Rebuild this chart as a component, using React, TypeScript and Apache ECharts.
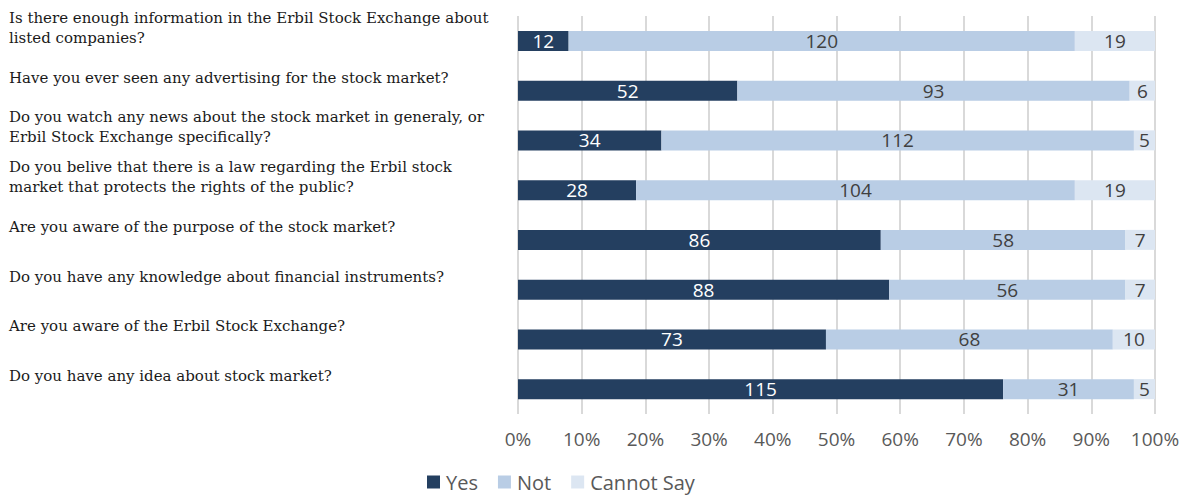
import React, { useEffect, useRef } from "react";
import * as echarts from "echarts";

const questions = [
  "Is there enough information in the Erbil Stock Exchange about\nlisted companies?",
  "Have you ever seen any advertising for the stock market?",
  "Do you watch any news about the stock market in generaly, or\nErbil Stock Exchange specifically?",
  "Do you belive that there is a law regarding the Erbil stock\nmarket that protects the rights of the public?",
  "Are you aware of the purpose of the stock market?",
  "Do you have any knowledge about financial instruments?",
  "Are you aware of the Erbil Stock Exchange?",
  "Do you have any idea about stock market?",
];

const yes = [12, 52, 34, 28, 86, 88, 73, 115];
const not = [120, 93, 112, 104, 58, 56, 68, 31];
const cannotSay = [19, 6, 5, 19, 7, 7, 10, 5];

const seriesNames = ["Yes", "Not", "Cannot Say"];
const colors = ["#243F60", "#B9CDE5", "#DCE6F2"];
const tickLabels = ["0%", "10%", "20%", "30%", "40%", "50%", "60%", "70%", "80%", "90%", "100%"];

export default function App() {
  const ref = useRef<HTMLDivElement>(null);
  useEffect(() => {
    if (!ref.current) return;
    const chart = echarts.init(ref.current, undefined, { renderer: "svg" });
    const raw = [yes, not, cannotSay];
    const totals = yes.map((v, i) => v + not[i] + cannotSay[i]);
    const series = raw.map((arr, s) => ({
      name: seriesNames[s],
      type: "bar",
      stack: "total",
      barWidth: 20,
      itemStyle: { color: colors[s] },
      label: {
        show: true,
        position: "inside",
        fontFamily: "Open Sans",
        fontSize: 19,
        color: s === 0 ? "#FFFFFF" : "#404040",
        formatter: (p: any) => String(arr[p.dataIndex]),
      },
      emphasis: { disabled: true },
      data: arr.map((v, i) => (v / totals[i]) * 100),
    }));
    chart.setOption({
      animation: false,
      grid: { left: 518, right: 29, top: 16, height: 398, containLabel: false },
      legend: {
        data: seriesNames,
        left: 422,
        top: 467,
        itemWidth: 13,
        itemHeight: 13,
        itemGap: 20,
        icon: "rect",
        textStyle: {
          fontFamily: "Open Sans",
          fontSize: 20,
          color: "#595959",
          padding: [0, 0, 0, 1],
        },
        selectedMode: false,
      },
      xAxis: {
        type: "value",
        min: 0,
        max: 100,
        interval: 10,
        axisLine: { show: false },
        axisTick: { show: false },
        splitLine: { show: true, lineStyle: { color: "#D9D9D9", width: 2 } },
        axisLabel: {
          margin: 15,
          fontFamily: "Open Sans",
          fontSize: 19,
          color: "#595959",
          formatter: (v: number) => tickLabels[Math.round(v / 10)],
        },
      },
      yAxis: {
        type: "category",
        inverse: true,
        data: questions,
        axisLine: { show: false },
        axisTick: { show: false },
        splitLine: { show: false },
        axisLabel: {
          interval: 0,
          hideOverlap: false,
          align: "left",
          margin: 509,
          formatter: (v: string) =>
            v
              .split("\n")
              .map((l) => `{q|${l}}`)
              .join("\n") + "\n{g| }",
          rich: {
            q: {
              fontFamily: "DejaVu Serif",
              fontSize: 15,
              lineHeight: 20,
              color: "#1a1a1a",
            },
            g: { fontSize: 2, lineHeight: 26 },
          },
        },
      },
      series,
    });
    return () => chart.dispose();
  }, []);
  return (
    <div
      ref={ref}
      style={{ position: "fixed", left: 0, top: 0, width: 1184, height: 495, background: "#fff" }}
    />
  );
}
